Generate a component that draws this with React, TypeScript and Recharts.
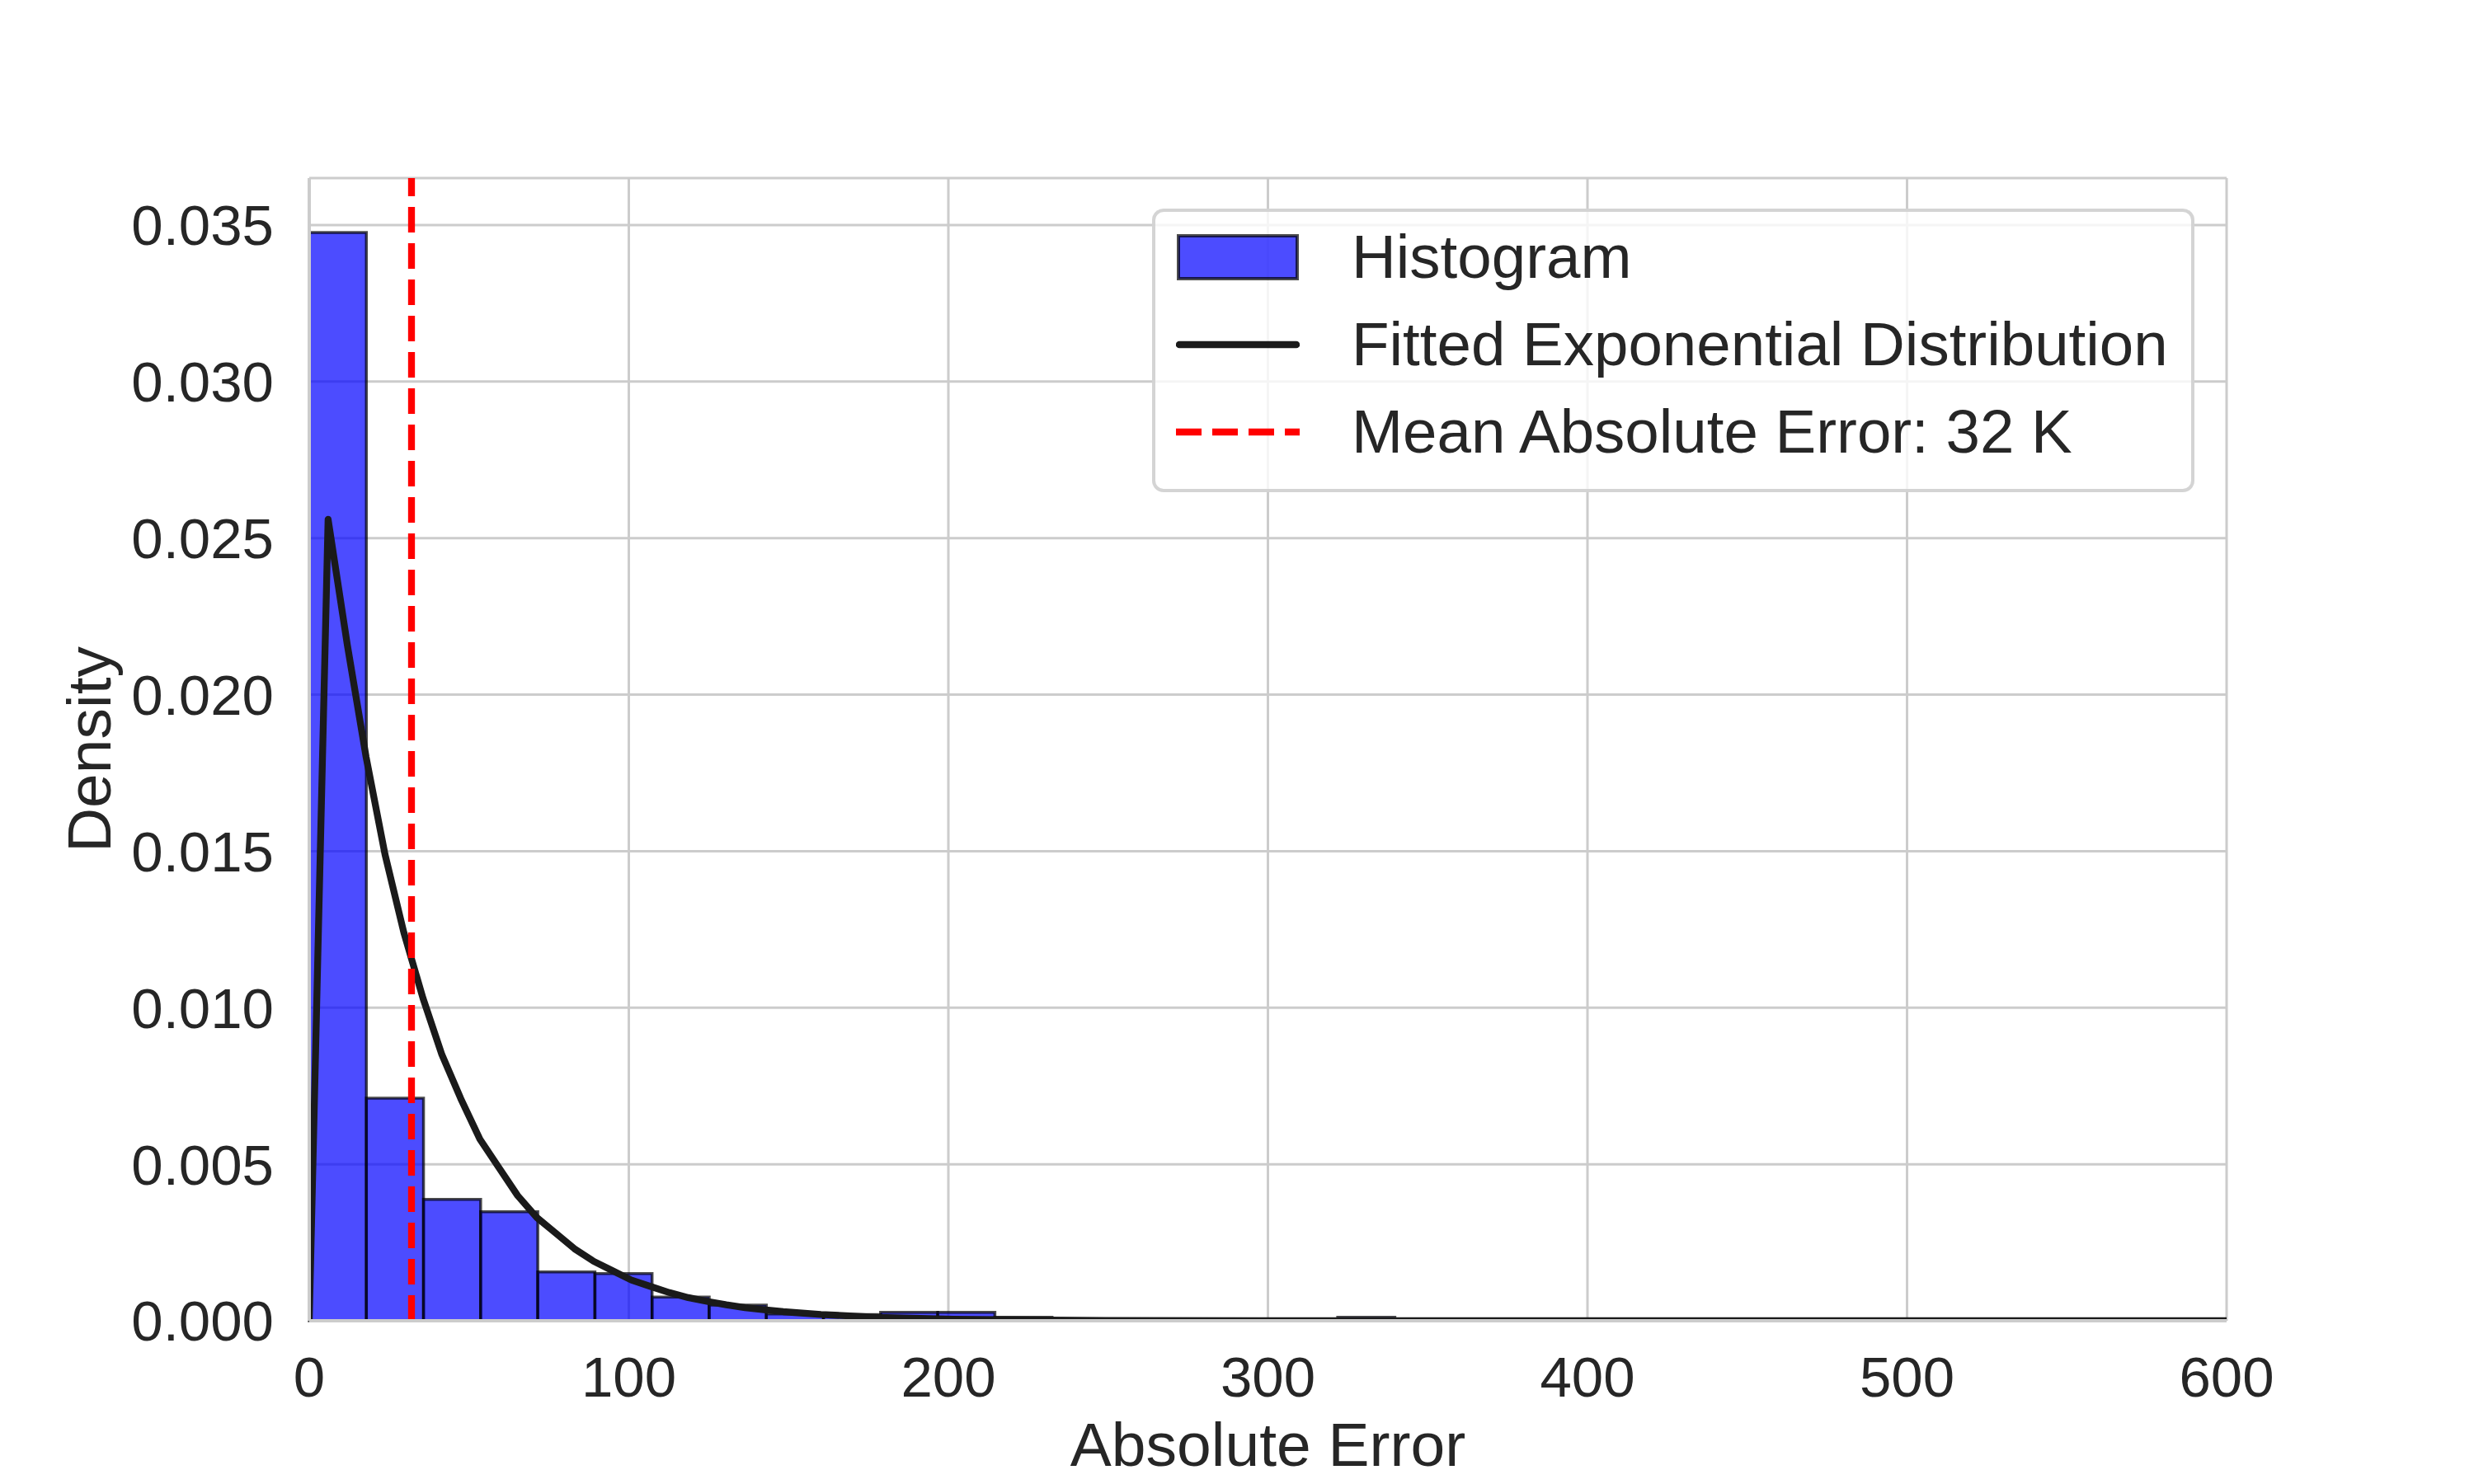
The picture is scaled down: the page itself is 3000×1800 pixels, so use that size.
import React from "react"
import {
  ComposedChart, Line, XAxis, YAxis, CartesianGrid, ReferenceArea, ReferenceLine, Legend,
} from "recharts"

const FONT = '"Liberation Sans", Arial, Helvetica, sans-serif'
const TEXT = "#262626"
const GRID = "#cccccc"

// histogram: bin width and density per bin
const BIN_WIDTH = 17.88
const binDensity = [
  0.03476, 0.00711, 0.00388, 0.00348, 0.00156, 0.00151, 0.00076, 0.0005,
  0.00022, 0.0002, 0.00027, 0.00027, 0.00011, 0.00006, 0, 0,
  0.00006, 0.00006, 0.00011, 0.00006, 0, 0, 0.00006, 0,
  0, 0.00006, 0, 0, 0, 0, 0, 0, 0,
]

// fitted exponential curve, sampled points
const curveX = [
  0, 5.9, 11.9, 17.8, 23.7, 29.6, 35.6, 41.5, 47.4, 53.4, 59.3, 65.2, 71.2, 77.1, 83.0, 89.0,
  94.9, 100.8, 106.7, 112.7, 118.6, 124.5, 130.5, 136.4, 142.3, 148.3, 160.1, 178.0, 201.7,
  249.1, 302.5, 400, 500, 600,
]
const curveY = [
  0, 0.0256, 0.0216, 0.018, 0.0149, 0.0124, 0.0103, 0.0085, 0.0071, 0.0058, 0.0049, 0.004,
  0.0033, 0.0028, 0.0023, 0.0019, 0.0016, 0.0013, 0.0011, 0.0009, 0.00074, 0.00062, 0.00051,
  0.00042, 0.00035, 0.00029, 0.0002, 0.00011, 0.00005, 0.00001, 0.000002, 0, 0, 0,
]

const MEAN_ERROR = 32
const xTicks = [0, 100, 200, 300, 400, 500, 600]
const yTicks = [0, 0.005, 0.01, 0.015, 0.02, 0.025, 0.03, 0.035]
const Y_MAX = 0.0365
const legendLabels = ["Histogram", "Fitted Exponential Distribution", "Mean Absolute Error: 32 K"]

const curveData = curveX.map((x, i) => ({ x, fit: curveY[i] }))

function LegendBox() {
  const handle = (i: number) => {
    if (i === 0)
      return <rect x={3} y={4} width={144} height={52} fill="#0000ff" fillOpacity={0.7} stroke="#000" strokeOpacity={0.7} strokeWidth={4} />
    if (i === 1)
      return <line x1={4} x2={146} y1={30} y2={30} stroke="#1a1a1a" strokeWidth={8.3} strokeLinecap="round" />
    return <line x1={0} x2={150} y1={30} y2={30} stroke="#ff0000" strokeWidth={8.3} strokeDasharray="31 13" />
  }
  return (
    <div
      style={{
        boxSizing: "border-box", width: 1264, height: 344, paddingTop: 2,
        border: "4px solid rgba(204,204,204,0.85)", borderRadius: 14,
        background: "rgba(255,255,255,0.8)", fontFamily: FONT, fontSize: 74.5, color: TEXT,
      }}
    >
      {legendLabels.map((label, i) => (
        <div key={label} style={{ display: "flex", alignItems: "center", height: 106, lineHeight: "106px" }}>
          <svg width={150} height={60} style={{ marginLeft: 25, marginRight: 63, flex: "none" }}>
            {handle(i)}
          </svg>
          <span style={{ whiteSpace: "nowrap" }}>{label}</span>
        </div>
      ))}
    </div>
  )
}

export default function App() {
  return (
    <div style={{ position: "absolute", left: 0, top: 0, width: 3000, height: 1800, background: "#fff" }}>
      <ComposedChart
        width={3000}
        height={1800}
        data={curveData}
        margin={{ top: 216, right: 300, bottom: 0, left: 0 }}
        style={{ fontFamily: FONT }}
      >
        <CartesianGrid stroke={GRID} strokeWidth={3} />
        <XAxis
          dataKey="x"
          type="number"
          domain={[0, 600]}
          ticks={xTicks}
          allowDataOverflow
          height={198}
          axisLine={{ stroke: GRID, strokeWidth: 4 }}
          tickLine={false}
          tickSize={0}
          tickMargin={43}
          tick={{ fontSize: 69, fill: TEXT, fontFamily: FONT }}
          label={{ value: "Absolute Error", position: "insideBottom", offset: 22, fontSize: 75, fill: TEXT, fontFamily: FONT }}
        />
        <XAxis xAxisId="top" orientation="top" type="number" domain={[0, 600]} height={0} tick={false} tickLine={false} axisLine={{ stroke: GRID, strokeWidth: 4 }} />
        <YAxis
          type="number"
          domain={[0, Y_MAX]}
          ticks={yTicks}
          allowDataOverflow
          width={375}
          axisLine={{ stroke: GRID, strokeWidth: 4 }}
          tickLine={false}
          tickSize={0}
          tickMargin={43}
          tickFormatter={(v: number) => v.toFixed(3)}
          tick={{ fontSize: 69, fill: TEXT, fontFamily: FONT }}
          label={{
            content: () => (
              <text x={107} y={909} transform="rotate(-90 107 909)" textAnchor="middle" dy="0.355em" fontSize={75} fill={TEXT} fontFamily={FONT}>
                Density
              </text>
            ),
          }}
        />
        <YAxis yAxisId="right" orientation="right" type="number" domain={[0, Y_MAX]} width={0} tick={false} tickLine={false} axisLine={{ stroke: GRID, strokeWidth: 4 }} />
        {binDensity.map((d, i) =>
          d > 0 ? (
            <ReferenceArea
              key={i}
              x1={i * BIN_WIDTH}
              x2={(i + 1) * BIN_WIDTH}
              y1={0}
              y2={d}
              fill="#0000ff"
              fillOpacity={0.7}
              stroke="#000"
              strokeOpacity={0.7}
              strokeWidth={3.5}
              ifOverflow="visible"
            />
          ) : null,
        )}
        <Line dataKey="fit" type="linear" stroke="#1a1a1a" strokeWidth={8.3} dot={false} activeDot={false} strokeLinejoin="round" isAnimationActive={false} />
        <ReferenceLine x={MEAN_ERROR} stroke="#ff0000" strokeWidth={8.3} strokeDasharray="31 13" />
        <Legend
          layout="horizontal"
          verticalAlign="middle"
          align="center"
          wrapperStyle={{ left: 1397, top: 253, width: 1264, height: 344 }}
          content={() => <LegendBox />}
        />
      </ComposedChart>
    </div>
  )
}
